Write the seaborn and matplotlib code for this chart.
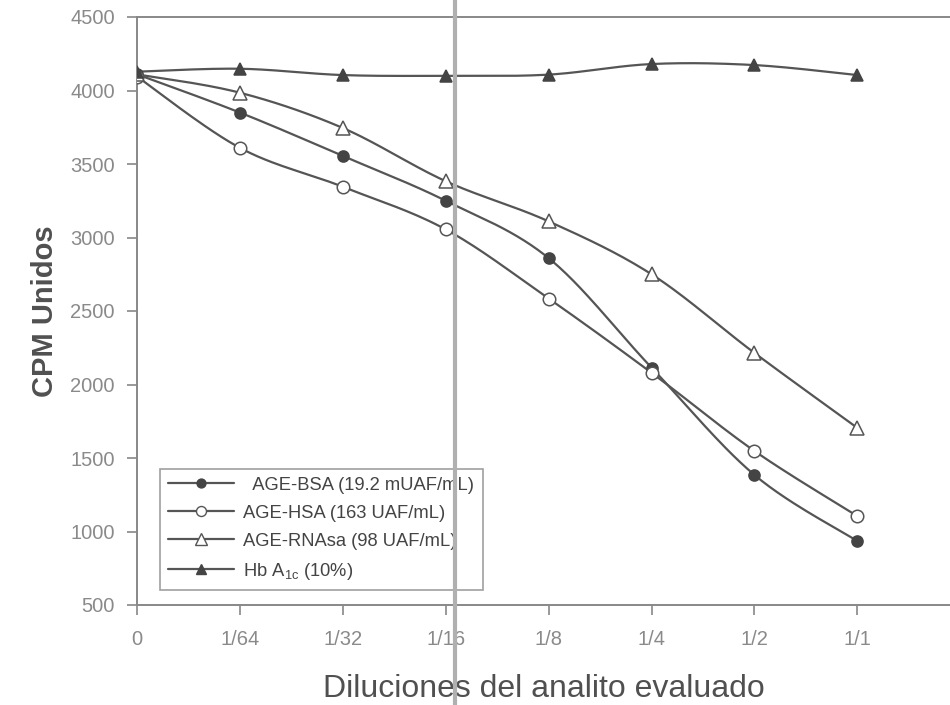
import numpy as np
import pandas as pd
import matplotlib
matplotlib.use("Agg")
import matplotlib.pyplot as plt
from matplotlib.lines import Line2D
import seaborn as sns

# ---- data ----
diluciones = ['0', '1/64', '1/32', '1/16', '1/8', '1/4', '1/2', '1/1']
age_bsa = [4110, 3850, 3555, 3250, 2860, 2115, 1385, 935]
age_hsa = [4095, 3610, 3345, 3055, 2585, 2080, 1548, 1105]
age_rnasa = [4110, 3985, 3745, 3383, 3110, 2750, 2215, 1705]
hb_a1c = [4128, 4148, 4105, 4100, 4108, 4180, 4173, 4105]
series_names = ['  AGE-BSA (19.2 mUAF/mL)', 'AGE-HSA (163 UAF/mL)',
                'AGE-RNAsa (98 UAF/mL)', 'Hb A$_{1c}$ (10%)']
y_ticks = [500, 1000, 1500, 2000, 2500, 3000, 3500, 4000, 4500]

sns.set_theme(style='white')
plt.rcParams['font.family'] = ['Liberation Sans', 'DejaVu Sans']
plt.rcParams['mathtext.fontset'] = 'custom'
plt.rcParams['mathtext.rm'] = 'Liberation Sans'
plt.rcParams['mathtext.it'] = 'Liberation Sans'

values = [age_bsa, age_hsa, age_rnasa, hb_a1c]
styles = [
    dict(marker='o', mfc='#444444', mec='#444444', ms=8),
    dict(marker='o', mfc='white', mec='#555555', ms=9),
    dict(marker='^', mfc='white', mec='#555555', ms=10),
    dict(marker='^', mfc='#444444', mec='#444444', ms=9),
]
line_col = '#555555'

rows = []
for name, vals in zip(series_names, values):
    for i, v in enumerate(vals):
        rows.append(dict(serie=name, pos=i, cpm=v))
df = pd.DataFrame(rows)

fig = plt.figure(figsize=(9.5, 7.05), dpi=100)
ax = fig.add_axes([137/950, 1-605/705, 1-137/950, (605-17)/705])


def smooth(x, y, n=30):
    x = np.asarray(x, float); y = np.asarray(y, float)
    P = np.column_stack([x, y])
    out = []
    for i in range(len(P)-1):
        p0 = P[i-1] if i > 0 else P[i]
        p3 = P[i+2] if i+2 < len(P) else P[i+1]
        p1, p2 = P[i], P[i+1]
        c1 = p1 + (p2 - p0) / 6.0
        c2 = p2 - (p3 - p1) / 6.0
        t = np.linspace(0, 1, n)[:, None]
        seg = ((1-t)**3)*p1 + 3*((1-t)**2)*t*c1 + 3*(1-t)*t**2*c2 + t**3*p2
        out.append(seg if i == 0 else seg[1:])
    s = np.vstack(out)
    return s[:, 0], s[:, 1]


handles = []
for name, st in zip(series_names, styles):
    d = df[df.serie == name]
    sx, sy = smooth(d.pos.values, d.cpm.values)
    ax.plot(sx, sy, color=line_col, lw=1.6, zorder=2)
    sns.lineplot(data=d, x='pos', y='cpm', ax=ax, linewidth=0,
                 marker=st['marker'], markersize=st['ms'],
                 markerfacecolor=st['mfc'], markeredgecolor=st['mec'],
                 markeredgewidth=1.1, legend=False, zorder=3, color=line_col)
    handles.append(Line2D([0], [0], color=line_col, lw=1.6, marker=st['marker'],
                          markersize=st['ms']*0.8, markerfacecolor=st['mfc'],
                          markeredgecolor=st['mec'], label=name))

ax.set_xlim(0, (950-137)/102.9)
ax.set_ylim(500, 4500)
ax.set_xticks(range(len(diluciones)))
ax.set_xticklabels(diluciones)
ax.set_yticks(y_ticks)
ax.set_yticklabels([str(v) for v in y_ticks])

for s in ['left', 'bottom', 'top']:
    ax.spines[s].set_color('#888888')
    ax.spines[s].set_linewidth(1.4)
ax.spines['right'].set_visible(False)

ax.tick_params(axis='both', which='major', direction='out', length=7,
               width=1.2, color='#888888', labelcolor='#8a8a8a',
               labelsize=14.5, left=True, bottom=True)
ax.tick_params(axis='y', pad=9)
ax.tick_params(axis='x', pad=11)

ax.set_xlabel('Diluciones del analito evaluado', fontsize=23, color='#505050',
              labelpad=18)
ax.set_ylabel('CPM Unidos', fontsize=21, color='#505050', fontweight='bold',
              labelpad=8)

leg = ax.legend(handles=handles, loc='lower left',
                bbox_to_anchor=((160-137)/813, (605-590)/588),
                borderaxespad=0, frameon=True, fancybox=False,
                edgecolor='#888888', fontsize=13.2, labelspacing=0.6,
                handlelength=3.6, handletextpad=0.5, borderpad=0.45)
leg.get_frame().set_linewidth(1.2)
for t in leg.get_texts():
    t.set_color('#444444')

# vertical fold line visible on the scanned reference
fig.add_artist(Line2D([455/950, 455/950], [0, 1], transform=fig.transFigure,
                      color='#b0b0b0', lw=3, zorder=10))

fig.savefig('out.png', dpi=100)
